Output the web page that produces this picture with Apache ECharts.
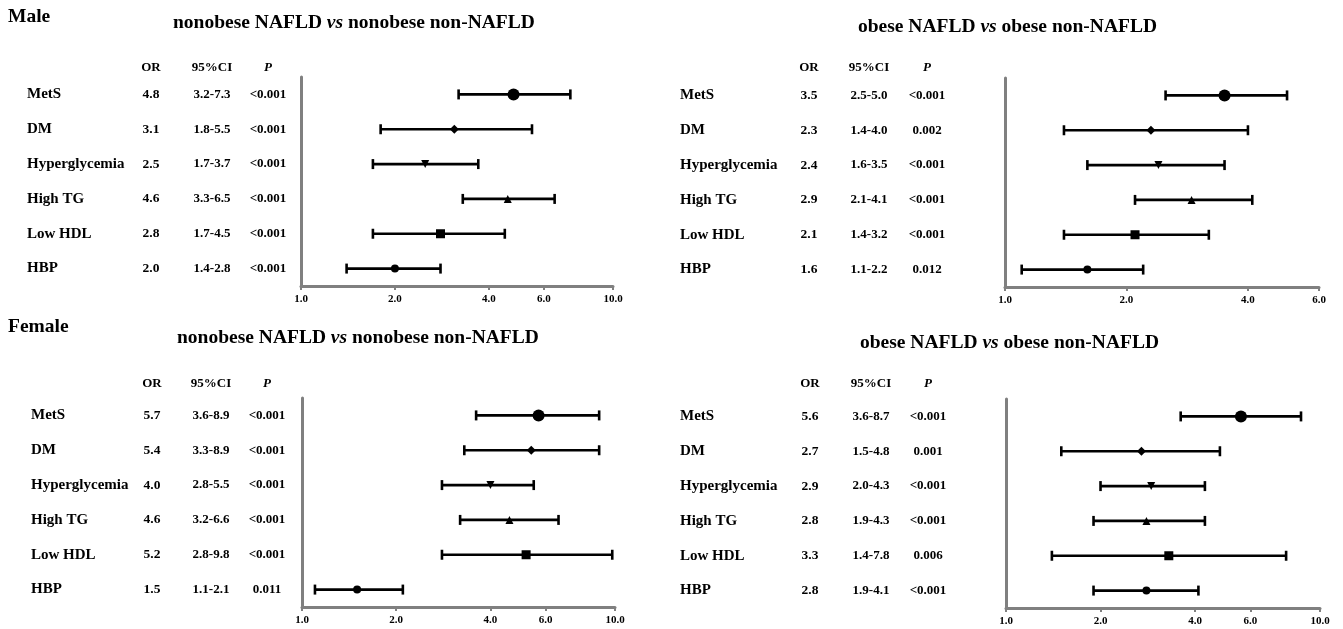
<!DOCTYPE html>
<html>
<head>
<meta charset="utf-8">
<script src="https://cdn.jsdelivr.net/npm/echarts@6/dist/echarts.min.js"></script>
<style>
html, body { margin: 0; padding: 0; background: #fff; }
#chart { width: 1343px; height: 629px; }
</style>
</head>
<body>
<div id="chart"></div>
<script>
// risk factors, top to bottom
const factors = ['MetS', 'DM', 'Hyperglycemia', 'High TG', 'Low HDL', 'HBP'];

// Male: nonobese NAFLD vs nonobese non-NAFLD
const maleLeanOR = [4.8, 3.1, 2.5, 4.6, 2.8, 2.0];
const maleLeanLow = [3.2, 1.8, 1.7, 3.3, 1.7, 1.4];
const maleLeanHigh = [7.3, 5.5, 3.7, 6.5, 4.5, 2.8];
const maleLeanP = ['<0.001', '<0.001', '<0.001', '<0.001', '<0.001', '<0.001'];

// Male: obese NAFLD vs obese non-NAFLD
const maleObeseOR = [3.5, 2.3, 2.4, 2.9, 2.1, 1.6];
const maleObeseLow = [2.5, 1.4, 1.6, 2.1, 1.4, 1.1];
const maleObeseHigh = [5.0, 4.0, 3.5, 4.1, 3.2, 2.2];
const maleObeseP = ['<0.001', '0.002', '<0.001', '<0.001', '<0.001', '0.012'];

// Female: nonobese NAFLD vs nonobese non-NAFLD
const femaleLeanOR = [5.7, 5.4, 4.0, 4.6, 5.2, 1.5];
const femaleLeanLow = [3.6, 3.3, 2.8, 3.2, 2.8, 1.1];
const femaleLeanHigh = [8.9, 8.9, 5.5, 6.6, 9.8, 2.1];
const femaleLeanP = ['<0.001', '<0.001', '<0.001', '<0.001', '<0.001', '0.011'];

// Female: obese NAFLD vs obese non-NAFLD
const femaleObeseOR = [5.6, 2.7, 2.9, 2.8, 3.3, 2.8];
const femaleObeseLow = [3.6, 1.5, 2.0, 1.9, 1.4, 1.9];
const femaleObeseHigh = [8.7, 4.8, 4.3, 4.3, 7.8, 4.1];
const femaleObeseP = ['<0.001', '0.001', '<0.001', '<0.001', '0.006', '<0.001'];

const ticksTo10 = [1, 2, 4, 6, 10];
const ticksTo6 = [1, 2, 4, 6];

const leanTitle = '{b|nonobese NAFLD }{i|vs}{b| nonobese non-NAFLD}';
const obeseTitle = '{b|obese NAFLD }{i|vs}{b| obese non-NAFLD}';

// marker per row
const markerShape = ['circle', 'diamond', 'triangle', 'triangle', 'rect', 'circle'];
const markerTurn = [0, 0, 180, 0, 0, 0];
const markerSize = [12, 9, 8, 8, 9, 8];

const FONT = '"Liberation Serif", "Times New Roman", serif';
const GRAY = '#808080';

const panels = [
  { or: maleLeanOR, lo: maleLeanLow, hi: maleLeanHigh, p: maleLeanP, ticks: ticksTo10,
    title: leanTitle, titlePos: [173, 13],
    grid: { left: 301, top: 77, width: 312, height: 209 },
    cols: { name: 274, or: 150, ci: 89, p: 33 }, headGap: 3 },
  { or: maleObeseOR, lo: maleObeseLow, hi: maleObeseHigh, p: maleObeseP, ticks: ticksTo6,
    title: obeseTitle, titlePos: [858, 17],
    grid: { left: 1005, top: 78, width: 314, height: 209 },
    cols: { name: 325, or: 196, ci: 136, p: 78 }, headGap: 4 },
  { or: femaleLeanOR, lo: femaleLeanLow, hi: femaleLeanHigh, p: femaleLeanP, ticks: ticksTo10,
    title: leanTitle, titlePos: [177, 328],
    grid: { left: 302, top: 398, width: 313, height: 209 },
    cols: { name: 271, or: 150, ci: 91, p: 35 }, headGap: 8 },
  { or: femaleObeseOR, lo: femaleObeseLow, hi: femaleObeseHigh, p: femaleObeseP, ticks: ticksTo10,
    title: obeseTitle, titlePos: [860, 333],
    grid: { left: 1006, top: 399, width: 314, height: 209 },
    cols: { name: 326, or: 196, ci: 135, p: 78 }, headGap: 9 }
];

const boldText = (size) => ({ fontFamily: FONT, fontWeight: 'bold', fontSize: size, color: '#000' });

const titles = [
  { text: 'Male', left: 8, top: 7, padding: 0, textStyle: boldText(19.5) },
  { text: 'Female', left: 8, top: 317, padding: 0, textStyle: boldText(19.5) }
];
const grids = [];
const xAxes = [];
const yAxes = [];
const series = [];

// one text column next to the plot, done as a bare category axis
function columnAxis(k, offset, head, italicHead, size, fmt, gap) {
  return {
    type: 'category', gridIndex: k, inverse: true, data: factors,
    position: 'left', offset: offset,
    axisLine: { show: false }, axisTick: { show: false }, splitLine: { show: false },
    axisLabel: Object.assign({ margin: 0, align: 'center', formatter: fmt }, boldText(size)),
    name: head, nameLocation: 'start', nameGap: gap,
    nameTextStyle: Object.assign(boldText(13), { fontStyle: italicHead ? 'italic' : 'normal' })
  };
}

panels.forEach((p, k) => {
  titles.push({
    text: p.title, left: p.titlePos[0], top: p.titlePos[1], padding: 0,
    textStyle: {
      rich: {
        b: boldText(19.5),
        i: Object.assign(boldText(19.5), { fontStyle: 'italic' })
      }
    }
  });

  grids.push(Object.assign({ containLabel: false, outerBoundsMode: 'none' }, p.grid));

  xAxes.push({
    type: 'log', logBase: 10, gridIndex: k, min: 1, max: p.ticks[p.ticks.length - 1],
    axisLine: { show: true, onZero: false, lineStyle: { color: GRAY, width: 3 } },
    axisTick: { show: true, customValues: p.ticks, length: 4, lineStyle: { color: GRAY, width: 2 } },
    axisLabel: Object.assign({
      customValues: p.ticks, margin: 8,
      formatter: (v) => Number(v).toFixed(1)
    }, boldText(11)),
    splitLine: { show: false },
    minorTick: { show: false }
  });

  const base = yAxes.length;
  yAxes.push({
    type: 'category', gridIndex: k, inverse: true, data: factors,
    axisLine: { show: true, onZero: false, lineStyle: { color: GRAY, width: 3 } },
    axisTick: { show: false },
    splitLine: { show: false },
    axisLabel: Object.assign({ align: 'left', margin: p.cols.name }, boldText(15))
  });
  yAxes.push(columnAxis(k, p.cols.or, 'OR', false, 13.5, (v, i) => p.or[i].toFixed(1), p.headGap));
  yAxes.push(columnAxis(k, p.cols.ci, '95%CI', false, 13,
    (v, i) => p.lo[i].toFixed(1) + '-' + p.hi[i].toFixed(1), p.headGap));
  yAxes.push(columnAxis(k, p.cols.p, 'P', true, 13, (v, i) => p.p[i], p.headGap));

  // confidence intervals with end caps
  series.push({
    type: 'custom', xAxisIndex: k, yAxisIndex: base,
    data: factors.map((f, i) => [p.lo[i], p.hi[i], f]),
    encode: { x: [0, 1], y: 2 },
    silent: true,
    renderItem(params, api) {
      const row = api.value(2);
      const a = api.coord([api.value(0), row]);
      const b = api.coord([api.value(1), row]);
      const h = 5;
      const style = { stroke: '#000', lineWidth: 2.6 };
      return {
        type: 'group',
        children: [
          { type: 'line', shape: { x1: a[0], y1: a[1], x2: b[0], y2: b[1] }, style },
          { type: 'line', shape: { x1: a[0], y1: a[1] - h, x2: a[0], y2: a[1] + h }, style },
          { type: 'line', shape: { x1: b[0], y1: b[1] - h, x2: b[0], y2: b[1] + h }, style }
        ]
      };
    }
  });

  // odds ratio markers
  series.push({
    type: 'scatter', xAxisIndex: k, yAxisIndex: base, z: 5, silent: true,
    itemStyle: { color: '#000', opacity: 1 },
    data: factors.map((f, i) => ({
      value: [p.or[i], f],
      symbol: markerShape[i],
      symbolSize: markerSize[i],
      symbolRotate: markerTurn[i]
    }))
  });
});

const chart = echarts.init(document.getElementById('chart'), null, { renderer: 'canvas' });
chart.setOption({
  backgroundColor: '#fff',
  animation: false,
  title: titles,
  grid: grids,
  xAxis: xAxes,
  yAxis: yAxes,
  series: series
});
</script>
</body>
</html>
